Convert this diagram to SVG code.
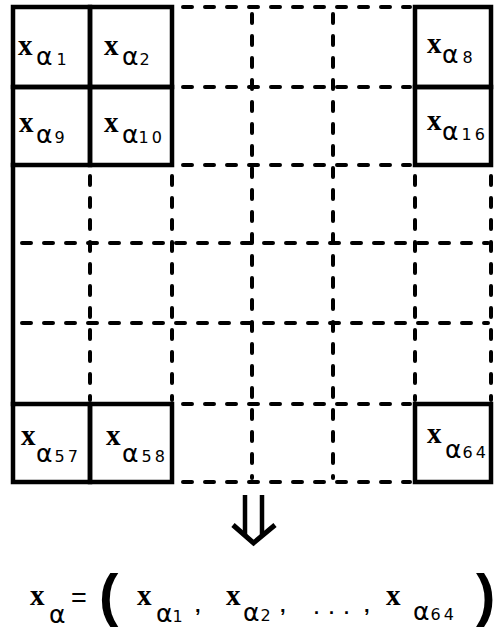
<svg xmlns="http://www.w3.org/2000/svg" width="494" height="629" viewBox="0 0 494 629">
<style>
.solid{fill:none;stroke:#000;stroke-width:4.5;stroke-linecap:square}
.dash{fill:none;stroke:#000;stroke-width:4;stroke-linecap:round;stroke-dasharray:9 13}
.x{font-family:"Liberation Serif","DejaVu Serif",serif;font-weight:bold;font-size:29px;fill:#000}
.s{font-family:"DejaVu Sans","Liberation Sans",sans-serif;font-size:16px;letter-spacing:3px;fill:#000}
.al{font-size:25px;letter-spacing:0}
.eq{font-family:"Liberation Sans","DejaVu Sans",sans-serif;fill:#000}
.par{font-family:"Liberation Sans","DejaVu Sans",sans-serif;font-weight:bold;font-size:58px;fill:#000}
</style>
<rect width="494" height="629" fill="#fff"/>
<g id="connectors">
  <g id="grid-dashed">
    <line class="dash" x1="183" y1="7" x2="410" y2="7"/>
    <line class="dash" x1="183" y1="87" x2="410" y2="87"/>
    <line class="dash" x1="183" y1="165" x2="410" y2="165"/>
    <line class="dash" x1="22" y1="243" x2="488" y2="243"/>
    <line class="dash" x1="22" y1="323" x2="488" y2="323"/>
    <line class="dash" x1="183" y1="404" x2="410" y2="404"/>
    <line class="dash" x1="183" y1="482" x2="410" y2="482"/>
    <line class="dash" x1="90" y1="176" x2="90" y2="400"/>
    <line class="dash" x1="172" y1="176" x2="172" y2="400"/>
    <line class="dash" x1="252" y1="14" x2="252" y2="478"/>
    <line class="dash" x1="333" y1="14" x2="333" y2="478"/>
    <line class="dash" x1="415" y1="176" x2="415" y2="400"/>
    <line class="dash" x1="491" y1="176" x2="491" y2="400"/>
  </g>
  <line class="solid" x1="13" y1="165" x2="13" y2="404"/>
  <g id="arrow">
    <line class="solid" x1="245" y1="495" x2="245" y2="536" style="stroke-linecap:butt"/>
    <line class="solid" x1="262" y1="495" x2="262" y2="536" style="stroke-linecap:butt"/>
    <polyline points="233,525 253.5,543 275,525" fill="none" stroke="#000" stroke-width="5" stroke-linejoin="miter"/>
  </g>
</g>
<g id="cell-a1"><rect class="solid" x="13" y="7" width="77" height="80"/><text class="x" x="18" y="55">x</text><text class="s" x="36" y="65"><tspan class="al">α</tspan><tspan dx="4">1</tspan></text></g>
<g id="cell-a2"><rect class="solid" x="90" y="7" width="82" height="80"/><text class="x" x="104" y="55">x</text><text class="s" x="122" y="65"><tspan class="al">α</tspan><tspan dx="1">2</tspan></text></g>
<g id="cell-a9"><rect class="solid" x="13" y="87" width="77" height="78"/><text class="x" x="19" y="132">x</text><text class="s" x="36" y="143"><tspan class="al">α</tspan><tspan dx="2">9</tspan></text></g>
<g id="cell-a10"><rect class="solid" x="90" y="87" width="82" height="78"/><text class="x" x="104" y="132">x</text><text class="s" x="122" y="143"><tspan class="al">α</tspan><tspan dx="0">10</tspan></text></g>
<g id="cell-a8"><rect class="solid" x="415" y="7" width="76" height="80"/><text class="x" x="427" y="53">x</text><text class="s" x="442" y="63"><tspan class="al">α</tspan><tspan dx="4">8</tspan></text></g>
<g id="cell-a16"><rect class="solid" x="415" y="87" width="76" height="78"/><text class="x" x="427" y="130">x</text><text class="s" x="442" y="140"><tspan class="al">α</tspan><tspan dx="3">16</tspan></text></g>
<g id="cell-a57"><rect class="solid" x="13" y="404" width="77" height="78"/><text class="x" x="21" y="445">x</text><text class="s" x="36" y="462"><tspan class="al">α</tspan><tspan dx="2">57</tspan></text></g>
<g id="cell-a58"><rect class="solid" x="90" y="404" width="82" height="78"/><text class="x" x="106" y="445">x</text><text class="s" x="122" y="462"><tspan class="al">α</tspan><tspan dx="3">58</tspan></text></g>
<g id="cell-a64"><rect class="solid" x="415" y="404" width="76" height="78"/><text class="x" x="427" y="443">x</text><text class="s" x="445" y="458"><tspan class="al">α</tspan><tspan dx="1">64</tspan></text></g>
<g id="equation">
  <text class="x" x="30" y="605">x</text>
  <text class="s" x="49" y="623"><tspan class="al">α</tspan></text>
  <text class="eq" x="71" y="607" font-size="27">=</text>
  <text class="par" x="99" y="615">(</text>
  <text class="x" x="137" y="605">x</text>
  <text class="s" x="156" y="622"><tspan class="al">α</tspan><tspan dx="0">1</tspan></text>
  <text class="eq" x="195" y="612" font-size="20" font-weight="bold">,</text>
  <text class="x" x="226" y="605">x</text>
  <text class="s" x="243" y="621"><tspan class="al">α</tspan><tspan dx="1">2</tspan></text>
  <text class="eq" x="280" y="612" font-size="20" font-weight="bold">,</text>
  <text class="eq" x="314 329 344" y="614" font-size="18" font-weight="bold">...</text>
  <text class="eq" x="364" y="612" font-size="20" font-weight="bold">,</text>
  <text class="x" x="386" y="605">x</text>
  <text class="s" x="413" y="620"><tspan class="al">α</tspan><tspan dx="1">64</tspan></text>
  <text class="par" x="476" y="615">)</text>
</g>
</svg>
